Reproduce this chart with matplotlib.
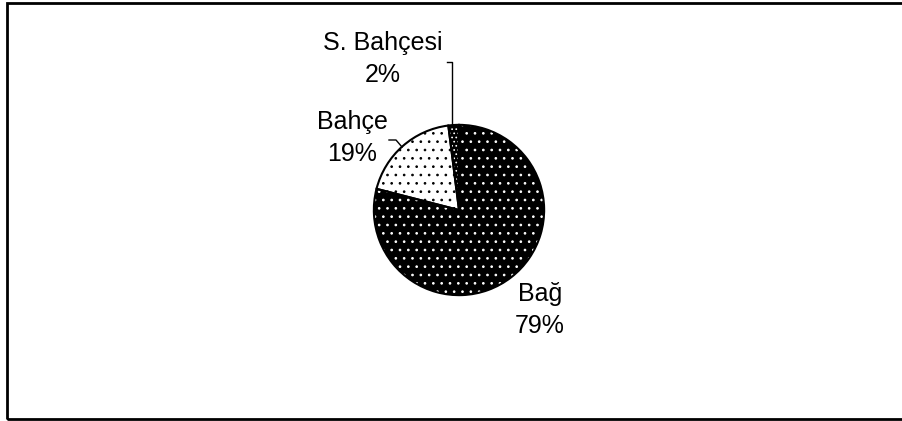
import matplotlib.pyplot as plt
from matplotlib.patches import Rectangle
from matplotlib.lines import Line2D

labels = ["Bağ", "Bahçe", "S. Bahçesi"]
shares = [79, 19, 2]
fills = ["black", "white", "black"]
dots = ["white", "black", "white"]
hatches = ["..", "..", "...."]

W, H = 902, 421
plt.rcParams['hatch.linewidth'] = 0.7
fig = plt.figure(figsize=(W / 100, H / 100), dpi=100)
plt.rcParams['font.family'] = ['Liberation Sans', 'DejaVu Sans']

# outer frame (right edge is cut off in the original)
fig.patches.append(Rectangle((7.5 / W, 2.0 / H), 1.0, (418.5 - 2.0) / H,
                             transform=fig.transFigure, fill=False,
                             edgecolor="black", linewidth=2.0))

cx, cy, r = 459, 210, 86
ax = fig.add_axes([(cx - r) / W, (H - cy - r) / H, 2 * r / W, 2 * r / H])

# filled wedges with dotted hatch (hatch colour follows edge colour)
wedges, _ = ax.pie(shares, startangle=90, counterclock=False, radius=1,
                   colors=fills, wedgeprops=dict(linewidth=0))
for w, d, h in zip(wedges, dots, hatches):
    w.set_hatch(h)
    w.set_edgecolor(d)

# outlines on top
outl, _ = ax.pie(shares, startangle=90, counterclock=False, radius=1,
                 colors=["none"] * 3,
                 wedgeprops=dict(linewidth=1.5, edgecolor="black", fill=False))

ax.set_xlim(-1.01, 1.01)
ax.set_ylim(-1.01, 1.01)
ax.set_aspect("equal")
ax.axis("off")

def fx(x):
    return x / W

def fy(y):
    return 1 - y / H

fs = 18
fig.text(fx(540), fy(310), "Bağ\n79%", ha="center", va="center", fontsize=fs,
         linespacing=1.45)
fig.text(fx(352), fy(138), "Bahçe\n19%", ha="center", va="center", fontsize=fs,
         linespacing=1.45)
fig.text(fx(383), fy(59), "S. Bahçesi\n2%", ha="center", va="center", fontsize=fs,
         linespacing=1.45)

# leader lines
fig.add_artist(Line2D([fx(447), fx(452), fx(452)], [fy(62), fy(62), fy(124)],
                      transform=fig.transFigure, color="black", linewidth=1))
fig.add_artist(Line2D([fx(389), fx(396), fx(402)], [fy(140), fy(140), fy(147)],
                      transform=fig.transFigure, color="black", linewidth=1))

fig.savefig("out.png", dpi=100)
